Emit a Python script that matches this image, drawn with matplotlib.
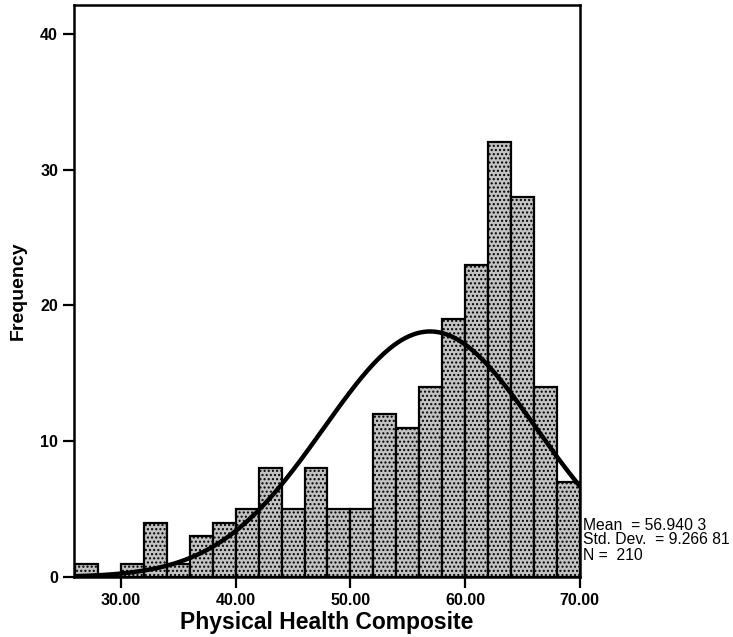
import numpy as np
import matplotlib
matplotlib.use("Agg")
import matplotlib.pyplot as plt

plt.rcParams['font.family'] = ['Liberation Sans', 'DejaVu Sans']
plt.rcParams['hatch.linewidth'] = 1.0

bin_edges = [26, 28, 30, 32, 34, 36, 38, 40, 42, 44, 46, 48, 50, 52, 54, 56, 58, 60, 62, 64, 66, 68, 70]
counts = [1, 0, 1, 4, 1, 3, 4, 5, 8, 5, 8, 5, 5, 12, 11, 14, 19, 23, 32, 28, 14, 7]
mean = 56.9403
sd = 9.26681
n = 210
xticks = [30, 40, 50, 60, 70]
xticklabels = ["30.00", "40.00", "50.00", "60.00", "70.00"]
yticks = [0, 10, 20, 30, 40]

fig = plt.figure(figsize=(7.33, 6.37), dpi=100)
ax = fig.add_axes([0.101, 0.094, 0.690, 0.898])

edges = np.array(bin_edges, dtype=float)
widths = np.diff(edges)
ax.bar(edges[:-1], counts, width=widths, align='edge', facecolor='#c2c2c2',
       edgecolor='black', linewidth=1.6, hatch='....', zorder=2)

xs = np.linspace(edges[0], edges[-1], 400)
pdf = n * 2.0 / (sd * np.sqrt(2 * np.pi)) * np.exp(-0.5 * ((xs - mean) / sd) ** 2)
ax.plot(xs, pdf, color='black', linewidth=3.2, zorder=3)

ax.set_xlim(25.9, 70)
ax.set_ylim(0, 42.1)
ax.set_xticks(xticks)
ax.set_xticklabels(xticklabels)
ax.set_yticks(yticks)
for s in ax.spines.values():
    s.set_linewidth(1.8)
ax.tick_params(direction='out', length=8, width=1.6, labelsize=11.5)
for lab in ax.get_xticklabels() + ax.get_yticklabels():
    lab.set_fontweight('bold')

ax.set_xlabel("Physical Health Composite", fontsize=16.5, fontweight='bold', labelpad=2)
ax.set_ylabel("Frequency", fontsize=14, fontweight='bold', labelpad=10)

fig.text(0.796, (637 - 525) / 637, "Mean  = 56.940 3", fontsize=11.3, va='center', ha='left')
fig.text(0.796, (637 - 540) / 637, "Std. Dev.  = 9.266 81", fontsize=11.3, va='center', ha='left')
fig.text(0.796, (637 - 555) / 637, "N =  210", fontsize=11.3, va='center', ha='left')

fig.savefig("out.png", dpi=100)
